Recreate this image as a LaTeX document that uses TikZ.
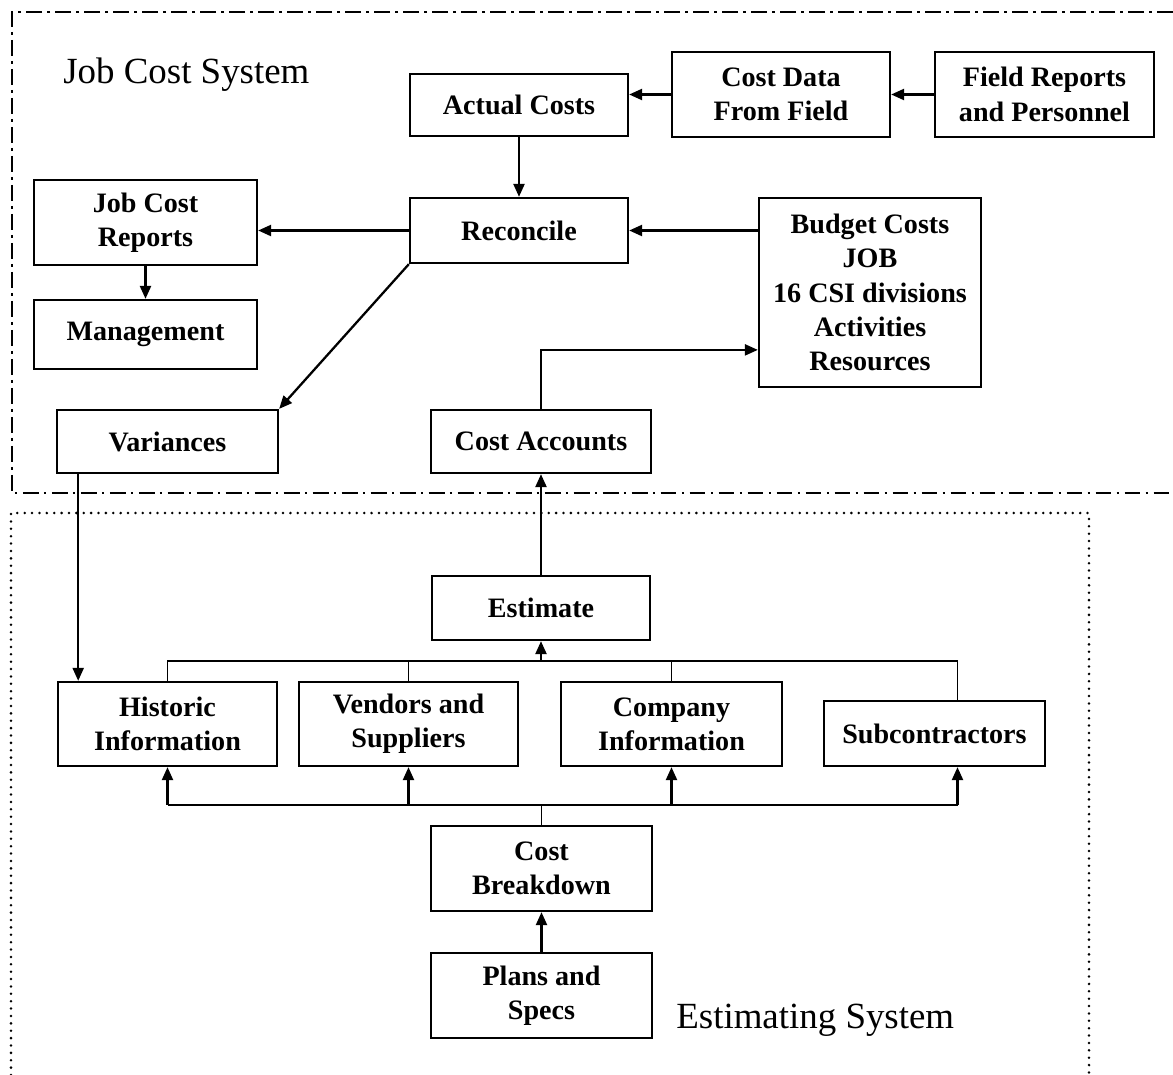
\documentclass[tikz,border=0pt]{standalone}
\usepackage{fontspec}
\setmainfont{Liberation Serif}
\usetikzlibrary{positioning}
\usetikzlibrary{calc}
\usetikzlibrary{arrows.meta}
\tikzset{
    % Small filled heads, as in the scanned figure
    >={Triangle[length=2.6mm, width=2.2mm]},
%
    % Sizes are given in picture units (one unit is one pixel of the scan)
    box size/.style 2 args={minimum width=#1*0.2mm, minimum height=#2*0.2mm},
%
    % Every box in the figure looks the same
    cost box/.style={
        draw, rectangle, line width=1.3pt, align=center, inner sep=0pt,
        font=\fontsize{16}{19.5}\selectfont\bfseries},
%
    % Connectors between boxes, and the thinner collecting lines
    link/.style={line width=1.3pt},
    bus/.style={line width=1pt},
%
    % The two system outlines
    system frame/.style={line width=1pt,
        dash pattern=on 9pt off 3pt on 1.5pt off 3pt},
    estimating frame/.style={line width=1.6pt, line cap=round,
        dash pattern=on 0pt off 4.2pt},
    system label/.style={font=\fontsize{21}{25}\selectfont, inner sep=0pt}}

\begin{document}
\begin{tikzpicture}[x=0.2mm, y=-0.2mm]
\useasboundingbox (0,0) rectangle (1173,1075);

% Outlines of the two systems
\draw[system frame] (1173,12) -- (12,12) -- (12,493) -- (1173,493);
\draw[estimating frame] (11,1075) -- (11,513) -- (1089,513) -- (1089,1075);

\node[system label, anchor=base west] (job cost system) at (63,83)
    {Job Cost System};
\node[system label, anchor=base west] (estimating system) at (676,1028)
    {Estimating System};

% Job cost side
\node[cost box, box size={218}{62}] (actual costs) at (519,105) {Actual Costs};
\node[cost box, box size={218}{85}] (cost data) at (781,94.5)
    {Cost Data\\From Field};
\node[cost box, box size={219}{85}] (field reports) at (1044.5,94.5)
    {Field Reports\\and Personnel};
\node[cost box, box size={218}{65}] (reconcile) at (519,230.5) {Reconcile};
\node[cost box, box size={222}{189}] (budget costs) at (870,292.5)
    {Budget Costs\\JOB\\16 CSI divisions\\Activities\\Resources};
\node[cost box, box size={223}{85}] (job cost reports) at (145.5,222.5)
    {Job Cost\\Reports};
\node[cost box, box size={223}{69}] (management) at (145.5,334.5) {Management};
\node[cost box, box size={221}{63}] (variances) at (167.5,441.5) {Variances};
\node[cost box, box size={220}{63}] (cost accounts) at (541,441.5)
    {Cost Accounts};

\draw[link,->] (field reports.west) -- (cost data.east);
\draw[link,->] (cost data.west) -- (cost data.west -| actual costs.east);
\draw[link,->] (actual costs) -- (reconcile);
\draw[link,->] (budget costs.west |- reconcile) -- (reconcile.east);
\draw[link,->] (reconcile.west) -- (reconcile.west -| job cost reports.east);
\draw[link,->] (job cost reports) -- (management);
\draw[link,->] (reconcile.south west) -- (variances.north east);
\draw[link,->] (cost accounts.north)
    |- ($(budget costs.south west)!0.2!(budget costs.north west)$);

% Estimating side
\node[cost box, box size={218}{64}] (estimate) at (541,608) {Estimate};
\node[cost box, box size={219}{84}] (historic) at (167.5,724)
    {Historic\\Information};
\node[cost box, box size={219}{84}] (vendors) at (408.5,724)
    {Vendors and\\Suppliers};
\node[cost box, box size={221}{84}] (company) at (671.5,724)
    {Company\\Information};
\node[cost box, box size={221}{65}] (subcontractors) at (934.5,733.5)
    {Subcontractors};
\node[cost box, box size={221}{85}] (cost breakdown) at (541.5,868.5)
    {Cost\\Breakdown};
\node[cost box, box size={221}{85}] (plans) at (541.5,995.5)
    {Plans and\\Specs};

\draw[link,->] (estimate) -- (cost accounts);

\coordinate (variances out) at ($(variances.south west)!0.1!(variances.south east)$);
\draw[link,->] (variances out) -- (variances out |- historic.north);

% Sources collected into the estimate
\coordinate (upper bus) at ($(estimate.south)+(0,20)$);
\coordinate (sub top) at ($(subcontractors.north)+(23,0)$);
\draw[bus] (historic.north) |- (upper bus) -| (sub top);
\draw[bus] (vendors.north) -- (vendors.north |- upper bus);
\draw[bus] (company.north) -- (company.north |- upper bus);
\draw[link,->] (upper bus) -- (estimate.south);

% Breakdown handed out to the sources
\coordinate (lower bus) at ($(cost breakdown.north)+(0,-20)$);
\coordinate (sub bottom) at ($(subcontractors.south)+(23,0)$);
\draw[link] (historic.south |- lower bus) -- (sub bottom |- lower bus);
\draw[bus] (cost breakdown.north) -- (lower bus);
\foreach \src in {historic, vendors, company}
    \draw[link,->] (\src.south |- lower bus) -- (\src.south);
\draw[link,->] (sub bottom |- lower bus) -- (sub bottom);
\draw[link,->] (plans) -- (cost breakdown);

\end{tikzpicture}
\end{document}
